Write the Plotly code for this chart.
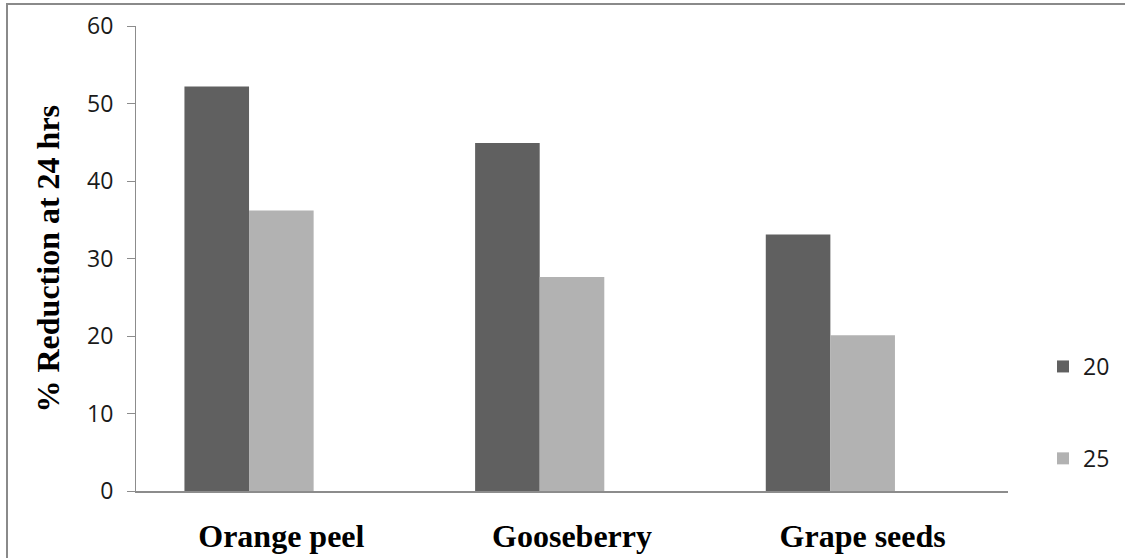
import plotly.graph_objects as go

# Data
categories = ["Orange peel", "Gooseberry", "Grape seeds"]
series_names = ["20", "25"]
values_20 = [52.2, 44.9, 33.1]
values_25 = [36.2, 27.6, 20.1]
y_ticks = [0, 10, 20, 30, 40, 50, 60]

# Layout geometry (pixels)
W, H = 1125, 558
M_L, M_R, M_T, M_B = 136, 117, 26, 67
PW = W - M_L - M_R
PH = H - M_T - M_B


def px_x(px):
    return (px - M_L) / PW


def px_y(py):
    return (H - M_B - py) / PH


DARK = "#606060"
LIGHT = "#b2b2b2"
AXIS = "#8c8c8c"
FRAME = "#8a8a8a"
TICK_FONT = dict(family="Open Sans, Liberation Sans, sans-serif", size=23, color="#1a1a1a")
SERIF_BOLD = dict(family="Liberation Serif, Times New Roman, serif", size=32,
                  color="#000000", weight="bold")

# Bars take a third of a slot each (gap of 1.5 bar widths), leaving a trailing empty slot
bar_w = 1 / 4.5

fig = go.Figure()
fig.add_trace(go.Bar(
    x=categories, y=values_20, name=series_names[0],
    marker=dict(color=DARK, line=dict(width=0)),
    width=bar_w, offset=-1.5 * bar_w, legendgroup="a",
))
fig.add_trace(go.Bar(
    x=categories, y=values_25, name=series_names[1],
    marker=dict(color=LIGHT, line=dict(width=0)),
    width=bar_w, offset=-0.5 * bar_w, legendgroup="b",
))

fig.update_layout(
    width=W, height=H,
    margin=dict(l=M_L, r=M_R, t=M_T, b=M_B, autoexpand=False),
    paper_bgcolor="white", plot_bgcolor="white",
    barmode="group",
    showlegend=True,
    legend=dict(
        x=px_x(1043), y=px_y(345), xanchor="left", yanchor="top",
        font=TICK_FONT, tracegroupgap=59, traceorder="grouped",
        bgcolor="rgba(0,0,0,0)",
    ),
    xaxis=dict(
        range=[-0.5, 2.5], showgrid=False, zeroline=False,
        showline=True, linecolor=AXIS, linewidth=2,
        ticks="", tickfont=SERIF_BOLD, ticklabelstandoff=16,
        automargin=False,
    ),
    yaxis=dict(
        range=[0, 60], tickvals=y_ticks, showgrid=False, zeroline=False,
        showline=True, linecolor=AXIS, linewidth=1,
        ticks="outside", ticklen=8, tickcolor=AXIS, tickwidth=1,
        tickfont=TICK_FONT, ticklabelstandoff=9,
        automargin=False,
    ),
    annotations=[dict(
        text="% Reduction at 24 hrs", textangle=-90,
        xref="paper", yref="paper", x=px_x(47), y=0.5,
        xanchor="center", yanchor="middle", showarrow=False,
        font=SERIF_BOLD,
    )],
    shapes=[
        # outer frame: top and left edges
        dict(type="line", xref="paper", yref="paper",
             x0=px_x(6), x1=px_x(W), y0=px_y(4), y1=px_y(4),
             line=dict(color=FRAME, width=2), layer="below"),
        dict(type="line", xref="paper", yref="paper",
             x0=px_x(7), x1=px_x(7), y0=px_y(3), y1=px_y(H),
             line=dict(color=FRAME, width=2), layer="below"),
    ],
)

# keep the page from showing scrollbars around the fixed-size figure
fig.write_html(
    "out.html",
    post_script="document.documentElement.style.overflow='hidden';"
                "document.body.style.overflow='hidden';"
                "document.body.style.margin='0';",
)
